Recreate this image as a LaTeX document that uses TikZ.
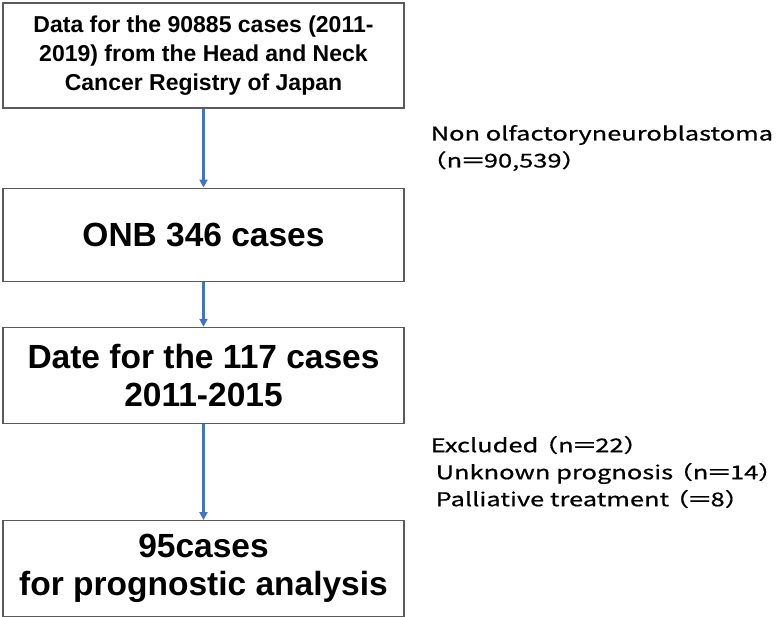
\documentclass[tikz,border=0pt]{standalone}
\usepackage{fontspec}
\setmainfont{Liberation Sans}
\newfontfamily\jpfont[FakeStretch=1.34, FakeBold=0.6]{Noto Sans CJK JP}
\usetikzlibrary{arrows.meta, positioning, calc}
\definecolor{flowblue}{RGB}{68,114,196}
\definecolor{boxgray}{RGB}{90,90,90}
\newcommand{\lpar}{\kern-0.3em（}
\newcommand{\rpar}{）\kern-0.5em}
\newcommand{\eqsign}{\kern-0.1em＝\kern-0.1em}

\begin{document}
\begin{tikzpicture}[
    x=1pt, y=1pt,
    box/.style={draw=boxgray, line width=1.2pt, minimum width=401pt, align=center, inner sep=0pt},
    arrow/.style={-{Triangle[length=8pt, width=8pt]}, line width=2.2pt, flowblue},
    note/.style={anchor=west, align=left, inner sep=0pt, font=\jpfont\fontsize{19}{27}\selectfont},
]
    \useasboundingbox (0,0) rectangle (778,-616);

    \node[box, minimum height=105pt, font=\bfseries\fontsize{23}{29}\selectfont] (src) at (203.5,-55.5)
        {Data for the 90885 cases (2011-\\2019) from the Head and Neck\\Cancer Registry of Japan};
    \node[box, minimum height=93pt, below=79pt of src, font=\bfseries\fontsize{33.5}{38}\selectfont] (onb)
        {ONB 346 cases};
    \node[box, minimum height=96pt, below=45pt of onb, font=\bfseries\fontsize{33.5}{38}\selectfont] (date)
        {Date for the 117 cases\\2011-2015};
    \node[box, minimum height=96pt, below=96pt of date, font=\bfseries\fontsize{33.5}{38}\selectfont] (final)
        {95cases\\for prognostic analysis};

    % exclusions at the side
    \node[note] (nononb) at ($(src.south)!0.5!(onb.north) + (227,0)$)
        {Non olfactoryneuroblastoma\\\kern-0.5em（n\eqsign 90,539\rpar};
    \node[note] (excl) at ($(date.south)!0.5!(final.north) + (227,0)$)
        {Excluded\lpar n\eqsign 22\rpar\\\hspace*{5pt}Unknown prognosis\lpar n\eqsign 14\rpar\\\hspace*{5pt}Palliative treatment\lpar\eqsign 8\rpar};

    \draw[arrow] (src) -- (onb);
    \draw[arrow] (onb) -- (date);
    \draw[arrow] (date) -- (final);
\end{tikzpicture}
\end{document}
